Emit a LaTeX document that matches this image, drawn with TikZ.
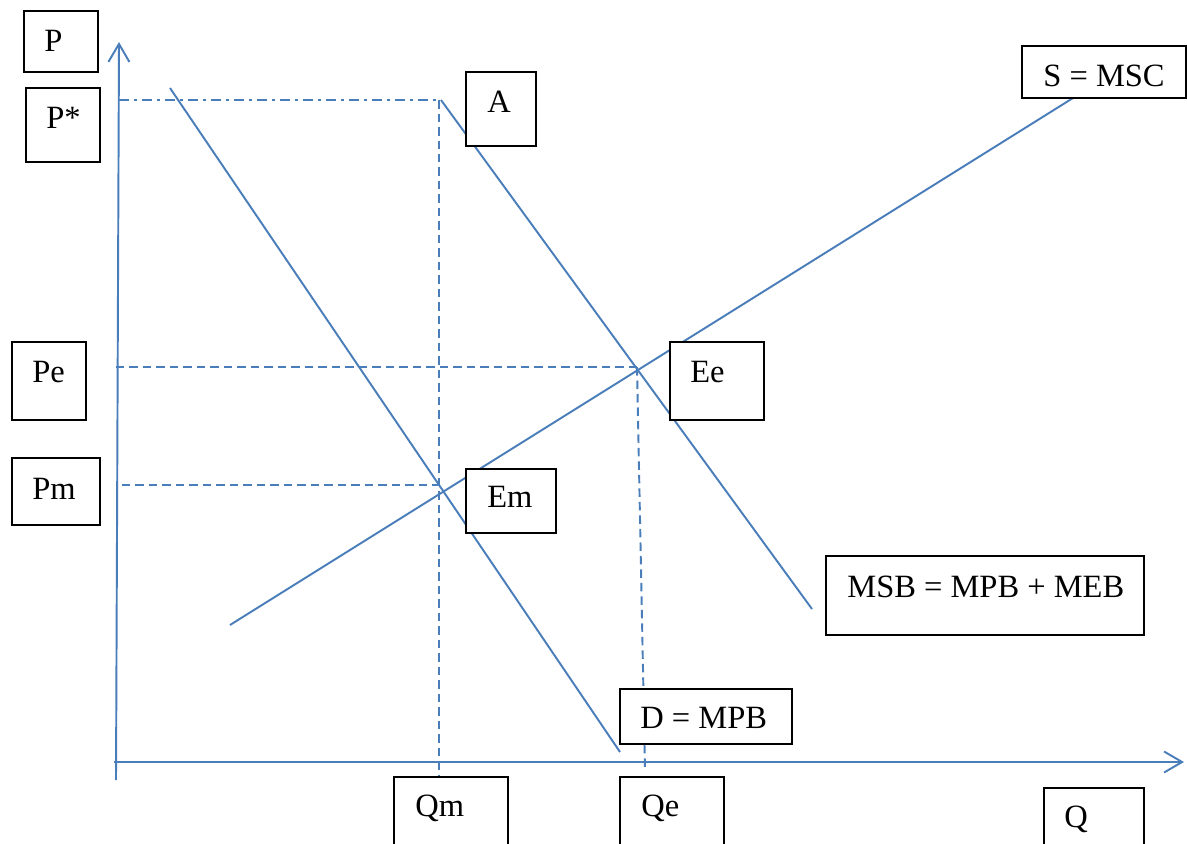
\documentclass[tikz,border=0pt]{standalone}
\usepackage{fontspec}
\setmainfont{Liberation Serif}
\usetikzlibrary{arrows.meta,fit}
\definecolor{lineblue}{HTML}{4A7EBB}
\tikzset{
  curve/.style={draw=lineblue, line width=1.1pt},
  axis/.style={draw=lineblue, line width=1.1pt, -{Straight Barb[length=0.36cm, width=0.42cm, line width=1.1pt]}},
  guide/.style={draw=lineblue, line width=1.1pt, dash pattern=on 0.17cm off 0.1cm},
  guidedot/.style={draw=lineblue, line width=1.1pt, dash pattern=on 0.2cm off 0.1cm on 0.06cm off 0.1cm},
  box/.style={draw=black, line width=0.8pt, fill=white, inner sep=0pt},
  lbl/.style={anchor=base west, inner sep=0pt, font=\fontsize{18.5}{22}\selectfont}
}
\begin{document}
\begin{tikzpicture}[x=0.02cm, y=-0.02cm]
\useasboundingbox (0,0) rectangle (1187,843);
\clip (0,0) rectangle (1187,843);
\fill[white] (0,0) rectangle (1187,843);

% key points
\coordinate (yo) at (116,780);
\coordinate (ytop) at (119,42);
\coordinate (xo) at (114,762);
\coordinate (xend) at (1184,762);
\coordinate (Dtop) at (170,88);
\coordinate (Dbot) at (620,752);
\coordinate (MSBtop) at (441,100);
\coordinate (MSBbot) at (812,609);
\coordinate (Sbot) at (230,625);
\coordinate (Stop) at (1073,98);
\coordinate (Pstar) at (119,100);
\coordinate (Qmtop) at (439,100);
\coordinate (Qmbot) at (439,777);
\coordinate (Pel) at (116,367);
\coordinate (Ept) at (637,367);
\coordinate (Qebot) at (645,770);
\coordinate (Pml) at (122,485);
\coordinate (Emp) at (438,485);

% guide lines
\draw[guidedot] (Pstar) -- (Qmtop);
\draw[guide] (Qmtop) -- (Qmbot);
\draw[guide] (Pel) -- (Ept);
\draw[guide] (Ept) -- (Qebot);
\draw[guide] (Pml) -- (Emp);

% axes
\draw[axis] (yo) -- (ytop);
\draw[axis] (xo) -- (xend);

% curves
\draw[curve] (Dtop) -- (Dbot);
\draw[curve] (MSBtop) -- (MSBbot);
\draw[curve] (Sbot) -- (Stop);

% boxes
\coordinate (bP1) at (24,11);   \coordinate (bP2) at (98,72);
\coordinate (bPs1) at (26,88);  \coordinate (bPs2) at (100,162);
\coordinate (bA1) at (466,72);  \coordinate (bA2) at (536,146);
\coordinate (bS1) at (1022,46); \coordinate (bS2) at (1186,98);
\coordinate (bPe1) at (12,342); \coordinate (bPe2) at (86,420);
\coordinate (bEe1) at (670,342);\coordinate (bEe2) at (764,420);
\coordinate (bPm1) at (12,458); \coordinate (bPm2) at (100,525);
\coordinate (bEm1) at (466,469);\coordinate (bEm2) at (556,533);
\coordinate (bMSB1) at (826,556);\coordinate (bMSB2) at (1144,635);
\coordinate (bD1) at (620,689); \coordinate (bD2) at (792,744);
\coordinate (bQm1) at (394,777);\coordinate (bQm2) at (508,870);
\coordinate (bQe1) at (620,777);\coordinate (bQe2) at (724,870);
\coordinate (bQ1) at (1044,788);\coordinate (bQ2) at (1144,870);

\node[box, fit=(bP1)(bP2)] (boxP) {};
\node[box, fit=(bPs1)(bPs2)] (boxPs) {};
\node[box, fit=(bA1)(bA2)] (boxA) {};
\node[box, fit=(bS1)(bS2)] (boxS) {};
\node[box, fit=(bPe1)(bPe2)] (boxPe) {};
\node[box, fit=(bEe1)(bEe2)] (boxEe) {};
\node[box, fit=(bPm1)(bPm2)] (boxPm) {};
\node[box, fit=(bEm1)(bEm2)] (boxEm) {};
\node[box, fit=(bMSB1)(bMSB2)] (boxMSB) {};
\node[box, fit=(bD1)(bD2)] (boxD) {};
\node[box, fit=(bQm1)(bQm2)] (boxQm) {};
\node[box, fit=(bQe1)(bQe2)] (boxQe) {};
\node[box, fit=(bQ1)(bQ2)] (boxQ) {};

% labels
\node[lbl] (tP) at (44,51) {P};
\node[lbl] (tPs) at (46,128) {P*};
\node[lbl] (tA) at (487,112) {A};
\node[lbl] (tS) at (1043,86) {S = MSC};
\node[lbl] (tPe) at (32,382) {Pe};
\node[lbl] (tEe) at (690,382) {Ee};
\node[lbl] (tPm) at (32,499) {Pm};
\node[lbl] (tEm) at (487,507) {Em};
\node[lbl] (tMSB) at (847,597) {MSB = MPB + MEB};
\node[lbl] (tD) at (640,728) {D = MPB};
\node[lbl] (tQm) at (415,816) {Qm};
\node[lbl] (tQe) at (641,816) {Qe};
\node[lbl] (tQ) at (1064,827) {Q};
\end{tikzpicture}
\end{document}
